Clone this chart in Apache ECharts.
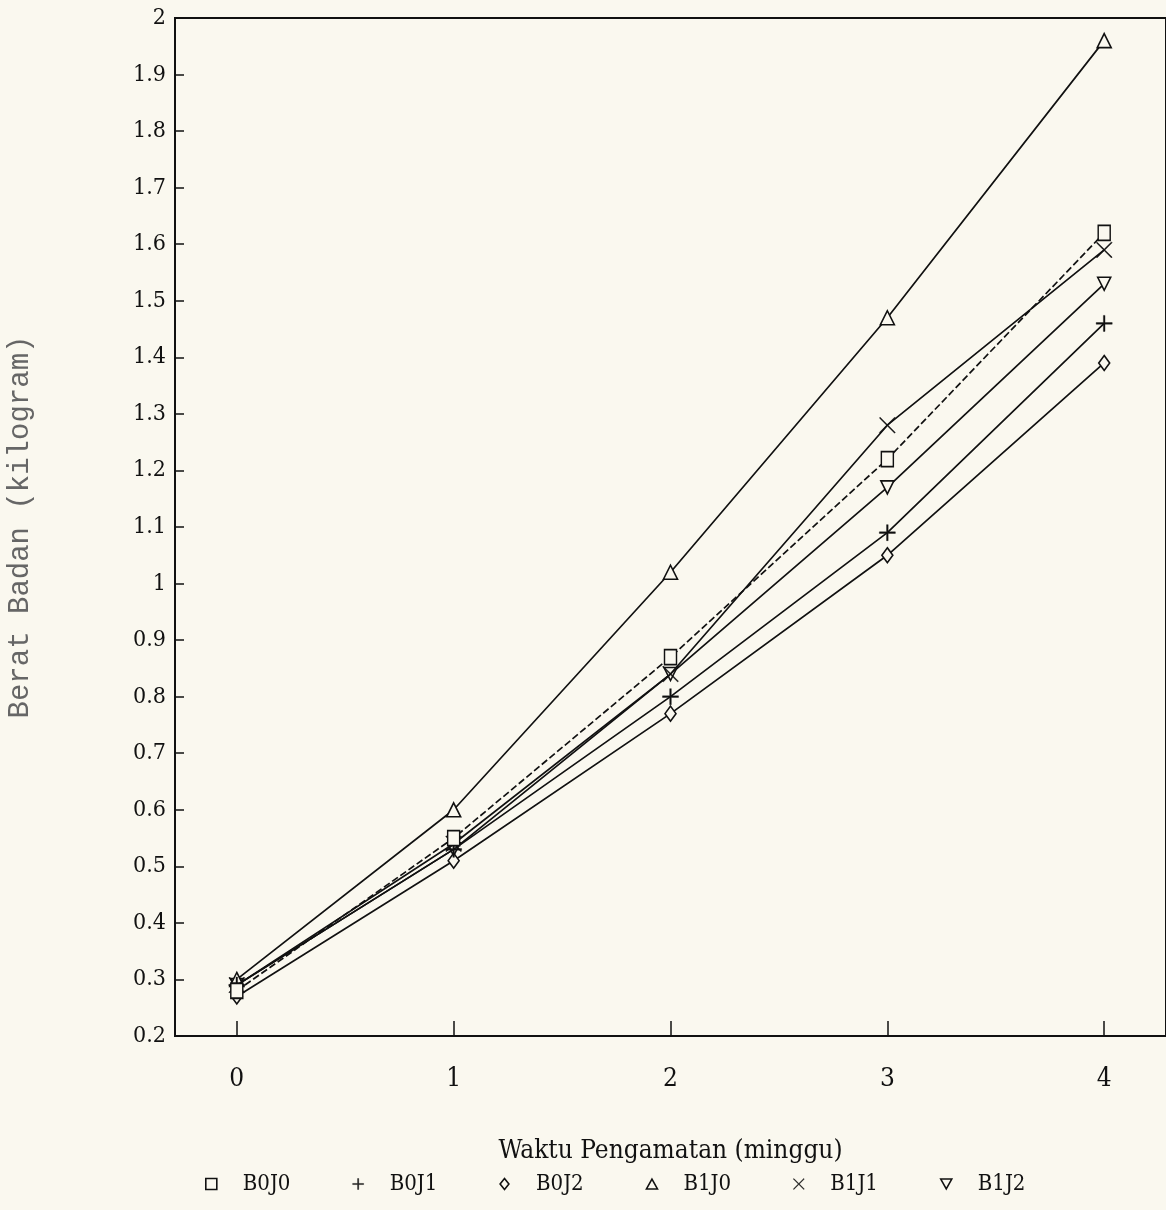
<!DOCTYPE html>
<html>
<head>
<meta charset="utf-8">
<script src="https://cdn.jsdelivr.net/npm/echarts@6/dist/echarts.min.js"></script>
<style>
  html, body { margin: 0; padding: 0; background: #faf8ef; }
  #chart { width: 1166px; height: 1210px; }
</style>
</head>
<body>
<div id="chart"></div>
<script>
// minggu pengamatan
var weeks = [0, 1, 2, 3, 4];
var yTicks = [0.2, 2, 0.1]; // min, max, interval

// berat badan (kg) per perlakuan
var seriesNames = ['B0J0', 'B0J1', 'B0J2', 'B1J0', 'B1J1', 'B1J2'];
var b0j0 = [0.28, 0.55, 0.87, 1.22, 1.62];
var b0j1 = [0.29, 0.53, 0.80, 1.09, 1.46];
var b0j2 = [0.27, 0.51, 0.77, 1.05, 1.39];
var b1j0 = [0.30, 0.60, 1.02, 1.47, 1.96];
var b1j1 = [0.29, 0.54, 0.84, 1.28, 1.59];
var b1j2 = [0.29, 0.53, 0.84, 1.17, 1.53];
var values = [b0j0, b0j1, b0j2, b1j0, b1j1, b1j2];

var paper = '#faf8ef';
var ink = '#111';
var fontMain = "'DejaVu Serif Condensed', 'Liberation Serif', serif";

/* simbol tiap seri */
var symbols = [
  { path: 'path://M0,0H16V16H0Z', size: [12, 15], hollow: true },
  { path: 'path://M9,0H11V9H20V11H11V20H9V11H0V9H9Z', size: 16, hollow: false },
  { path: 'path://M10,0L18,10L10,20L2,10Z', size: [11, 15], hollow: true },
  { path: 'path://M10,0L20,18L0,18Z', size: [14, 14], hollow: true },
  { path: 'path://M0,1L1,0L10,9L19,0L20,1L11,10L20,19L19,20L10,11L1,20L0,19L9,10Z', size: 16, hollow: false },
  { path: 'path://M0,0L20,0L10,18Z', size: [13, 13], hollow: true }
];
var dashes = ['dashed', 'solid', 'solid', 'solid', 'solid', 'solid'];

function markStyle(s) {
  return s.hollow
    ? { color: paper, borderColor: ink, borderWidth: 1.6 }
    : { color: ink, borderColor: ink, borderWidth: 0.4 };
}

var series = seriesNames.map(function (name, i) {
  return {
    name: name,
    type: 'line',
    data: weeks.map(function (w, k) { return [w, values[i][k]]; }),
    symbol: symbols[i].path,
    symbolSize: symbols[i].size,
    showAllSymbol: true,
    z: 10 - i,
    lineStyle: { color: ink, width: 1.7, type: dashes[i] === 'dashed' ? [7, 3] : 'solid' },
    itemStyle: markStyle(symbols[i]),
    emphasis: { disabled: true }
  };
});

var chart = echarts.init(document.getElementById('chart'));
chart.setOption({
  backgroundColor: paper,
  animation: false,
  grid: {
    left: 175, right: 0, top: 18, bottom: 174,
    outerBoundsMode: 'none',
    containLabel: false,
    show: true, borderColor: ink, borderWidth: 2,
    backgroundColor: 'transparent'
  },
  xAxis: {
    type: 'value',
    min: -0.285,
    max: 4.285,
    name: 'Waktu Pengamatan (minggu)',
    nameLocation: 'middle',
    nameGap: 102,
    nameTextStyle: { fontFamily: fontMain, fontSize: 26, color: ink },
    axisLine: { show: true, onZero: false, lineStyle: { color: ink, width: 2 } },
    axisTick: { show: true, inside: true, length: 15, customValues: weeks, lineStyle: { color: ink, width: 1.5 } },
    axisLabel: { customValues: weeks, margin: 30, fontFamily: fontMain, fontSize: 26, color: ink },
    splitLine: { show: false }
  },
  yAxis: {
    type: 'value',
    min: yTicks[0],
    max: yTicks[1],
    interval: yTicks[2],
    name: 'Berat Badan (kilogram)',
    nameLocation: 'middle',
    nameGap: 140,
    nameTextStyle: { fontFamily: "'Liberation Mono', 'DejaVu Sans Mono', monospace", fontSize: 29, color: '#666' },
    axisLine: { show: true, onZero: false, lineStyle: { color: ink, width: 2 } },
    axisTick: { show: true, inside: true, length: 9, lineStyle: { color: ink, width: 1.5 } },
    axisLabel: { margin: 9, fontFamily: fontMain, fontSize: 23, color: ink },
    splitLine: { show: false }
  },
  legend: {
    bottom: 10,
    left: 200,
    itemGap: 62,
    itemWidth: 11,
    itemHeight: 11,
    textStyle: { fontFamily: fontMain, fontSize: 22, color: ink, padding: [0, 0, 0, 21] },
    data: seriesNames.map(function (name, i) {
      return { name: name, icon: symbols[i].path, itemStyle: markStyle(symbols[i]) };
    })
  },
  series: series
});
</script>
</body>
</html>
